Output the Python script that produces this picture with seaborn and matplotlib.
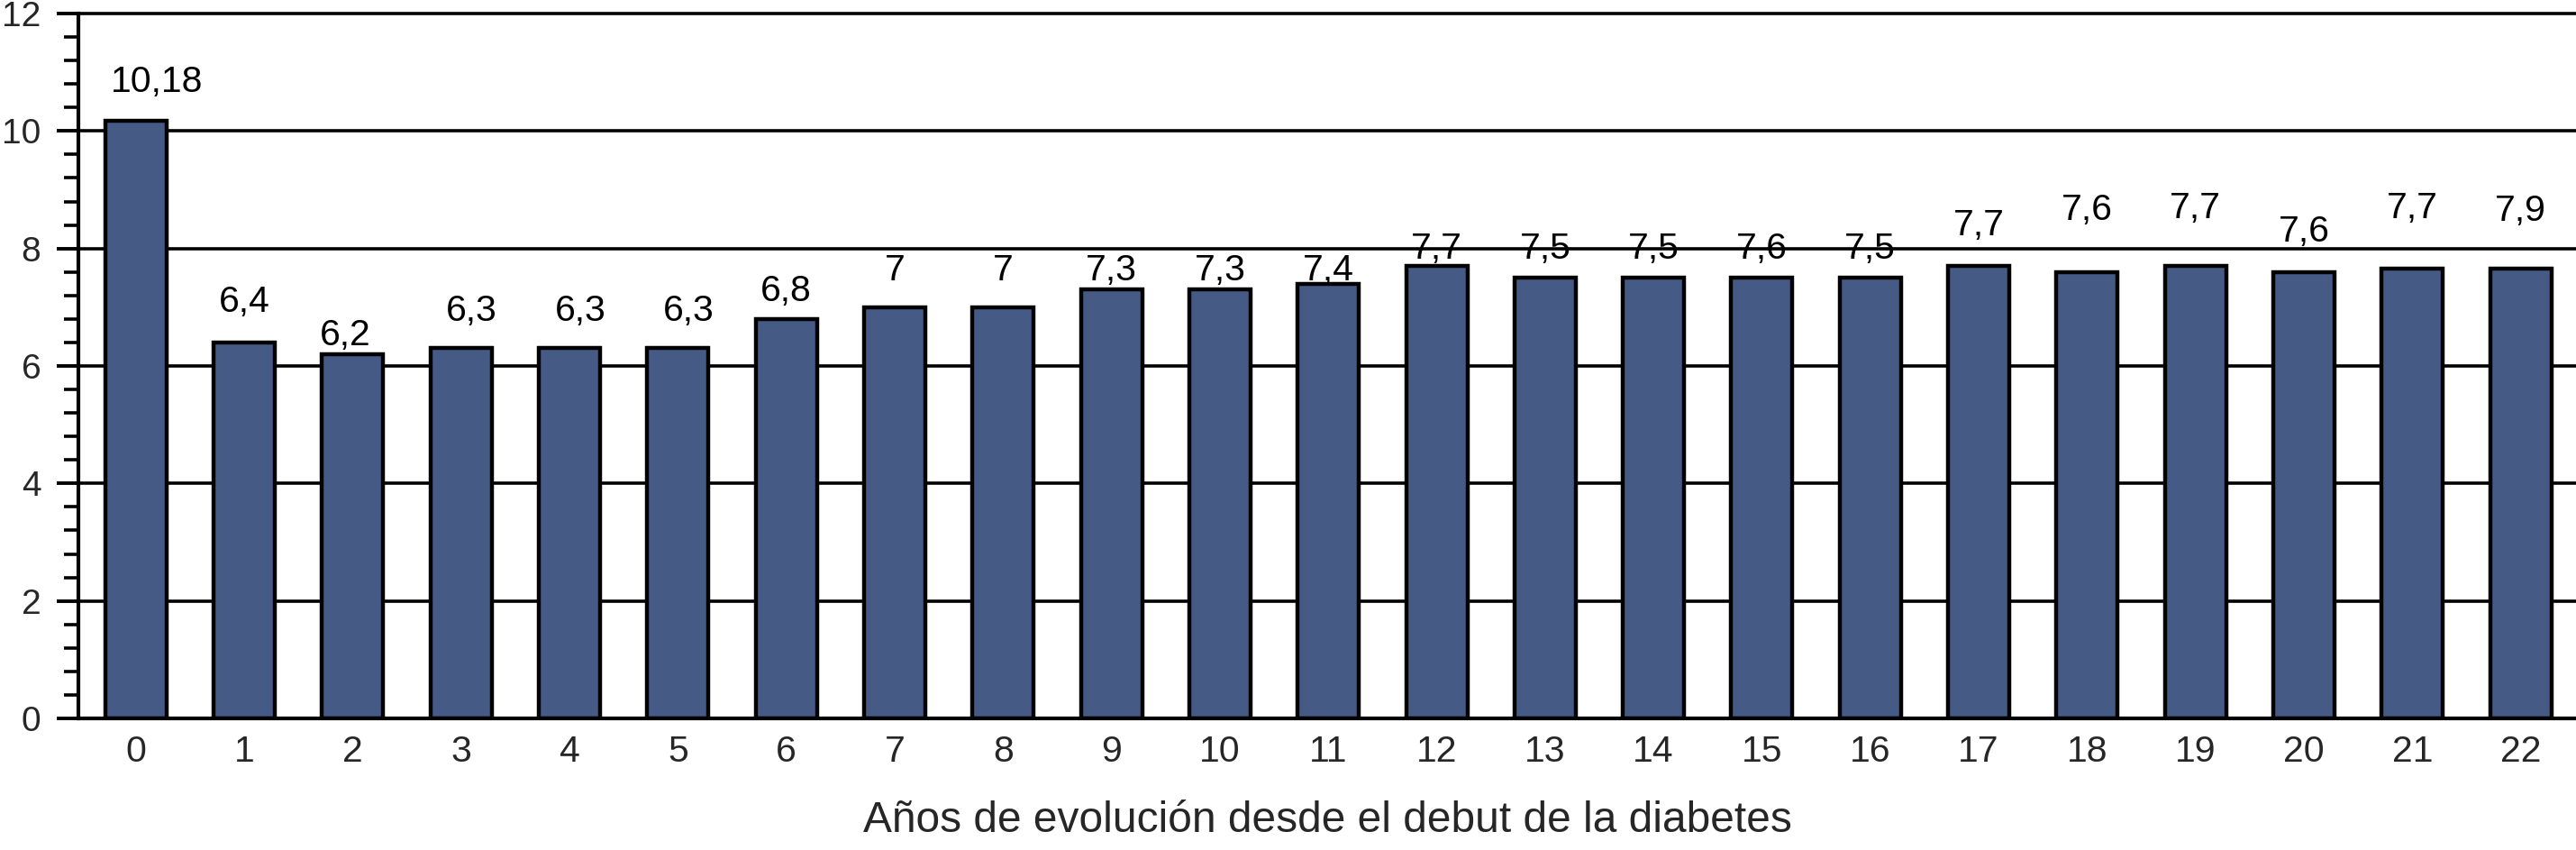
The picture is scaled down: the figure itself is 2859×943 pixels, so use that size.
import matplotlib
matplotlib.use('Agg')
import matplotlib.pyplot as plt
import matplotlib.ticker as mticker
import seaborn as sns
import pandas as pd

# Years since diabetes onset and the plotted values
years = [str(i) for i in range(23)]
bar_values = [10.18, 6.4, 6.2, 6.3, 6.3, 6.3, 6.8, 7.0, 7.0, 7.3, 7.3, 7.4,
              7.7, 7.5, 7.5, 7.5, 7.5, 7.7, 7.6, 7.7, 7.6, 7.65, 7.65]
label_text = ['10,18', '6,4', '6,2', '6,3', '6,3', '6,3', '6,8', '7', '7', '7,3',
              '7,3', '7,4', '7,7', '7,5', '7,5', '7,6', '7,5', '7,7', '7,6', '7,7',
              '7,6', '7,7', '7,9']
# height (data units) at which each value label sits in the original figure
label_y = [10.89, 7.15, 6.58, 6.99, 6.99, 6.99, 7.33, 7.69, 7.69, 7.69, 7.69, 7.69,
           8.05, 8.05, 8.05, 8.05, 8.05, 8.46, 8.72, 8.75, 8.34, 8.75, 8.70]
# small horizontal nudges of the labels (category units)
label_dx = [0.19, 0, -0.07, 0.1, 0.1, 0.1, 0, 0, 0, 0, 0, 0,
            0, 0, 0, 0, 0, 0, 0, 0, 0, 0, 0]

df = pd.DataFrame({'anio': years, 'valor': bar_values})

sns.set_theme(style='white')
plt.rcParams['font.family'] = ['Liberation Sans', 'DejaVu Sans']

W, H = 2859, 943
fig = plt.figure(figsize=(W / 100, H / 100), dpi=100)
ax = fig.add_axes([87 / W, 1 - 797 / H, 1 - 87 / W, (797 - 15) / H])

sns.barplot(data=df, x='anio', y='valor', color='#465a86', saturation=1,
            width=0.565, edgecolor='black', linewidth=3.2, ax=ax)

for i, (txt, yy, dx) in enumerate(zip(label_text, label_y, label_dx)):
    ax.text(i + dx, yy - 0.23, txt, ha='center', va='baseline', fontsize=29.5, color='black')

ax.set_ylim(0, 12)
ax.set_xlim(-0.53, 22.51)
ax.yaxis.set_major_locator(mticker.MultipleLocator(2))
ax.yaxis.set_minor_locator(mticker.MultipleLocator(0.4))
ax.yaxis.grid(True, which='major', color='black', linewidth=2.6)
ax.set_axisbelow(True)
for gl in ax.get_ygridlines():
    gl.set_clip_on(False)

for side in ['top', 'right']:
    ax.spines[side].set_visible(False)
for side in ['left', 'bottom']:
    ax.spines[side].set_color('black')
    ax.spines[side].set_linewidth(3.0)

ax.tick_params(axis='y', which='major', length=17, width=2.8, color='black',
               direction='out', pad=13, labelsize=28, left=True)
ax.tick_params(axis='y', which='minor', length=11.5, width=2.6, color='black',
               direction='out', left=True)
ax.tick_params(axis='x', length=0, pad=13, labelsize=29.5)

ax.set_ylabel('')
ax.set_xlabel('Años de evolución desde el debut de la diabetes', fontsize=34.5, labelpad=25)

fig.savefig('out.png', dpi=100, facecolor='white')
